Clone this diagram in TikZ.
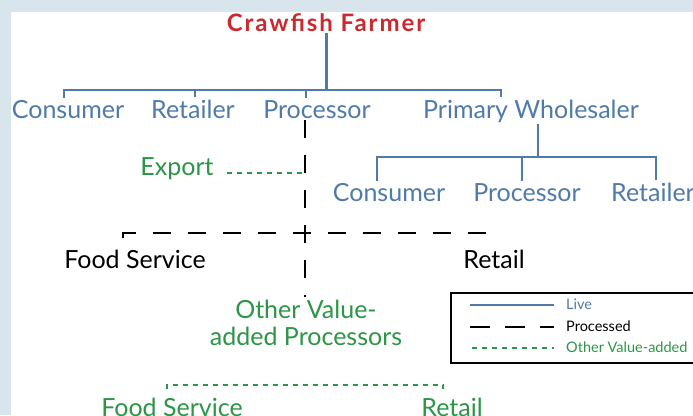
\documentclass[tikz,border=0pt]{standalone}
\usepackage{fontspec}
\setmainfont{Lato}
\usetikzlibrary{calc}

\definecolor{livec}{RGB}{80,122,170}
\definecolor{farmc}{RGB}{204,41,46}
\definecolor{addc}{RGB}{44,150,70}
\definecolor{backc}{RGB}{217,229,236}

\begin{document}
\begin{tikzpicture}[x=1pt,y=-1pt,
    lab/.style={inner sep=2pt, anchor=base, font=\fontsize{25}{27}\selectfont},
    leg/.style={inner sep=2pt, anchor=base west, font=\fontsize{14.5}{16}\selectfont},
    live/.style={livec, line width=2pt},
    processed/.style={black, line width=1.6pt, dash pattern=on 18pt off 17pt},
    valueadded/.style={addc, line width=1.6pt, dash pattern=on 5pt off 5pt}]

        % Page and the light frame round it
        \clip (0,0) rectangle (693,415);
        \fill[backc] (0,0) rectangle (693,415);
        \fill[white] (11,12) rectangle (693,415);

        % The farmer on top
        \node[lab, farmc, font=\fontsize{24}{26}\selectfont\bfseries\addfontfeatures{LetterSpace=8}] (farmer) at (326,31) {Crawfish Farmer};

        % First row of buyers
        \node[lab, livec] (c1) at (68,118) {Consumer};
        \node[lab, livec] (r1) at (193,118) {Retailer};
        \node[lab, livec] (p1) at (317,118) {Processor};
        \node[lab, livec] (w1) at (531,118) {Primary Wholesaler};

        % Live branches from the farmer
        \coordinate (bar1) at (326,90);
        \draw[livec, line width=3pt] (farmer.south) -- (bar1);
        \draw[live] ([xshift=-4pt]c1.north) -- ([xshift=-4pt]c1.north |- bar1)
            -- ([xshift=-30pt]w1.north |- bar1) -- ([xshift=-30pt]w1.north);
        \draw[live] ([xshift=2pt]r1.north) -- ([xshift=2pt]r1.north |- bar1);
        \draw[live] ([xshift=-11pt]p1.north) -- ([xshift=-11pt]p1.north |- bar1);

        % Second row under the wholesaler
        \node[lab, livec] (c2) at (389,201) {Consumer};
        \node[lab, livec] (p2) at (527,201) {Processor};
        \node[lab, livec] (r2) at (653,201) {Retailer};

        \coordinate (bar2) at (538,157);
        \draw[live] ([xshift=7pt]w1.south) -- (bar2);
        \draw[live] ([xshift=-12pt]c2.north) -- ([xshift=-12pt]c2.north |- bar2)
            -- ([xshift=3pt]r2.north |- bar2) -- ([xshift=3pt]r2.north);
        \draw[live] ([xshift=-5pt]p2.north) -- ([xshift=-5pt]p2.north |- bar2);

        % Processed line and export
        \node[lab, addc] (export) at (177,175) {Export};
        \node[lab, addc, align=center] (ovp) at (306,345) {Other Value-\\added Processors};
        \coordinate (exp) at (305,173);
        \draw[processed] ([xshift=-12pt]p1.south) -- ([xshift=-12pt]p1.south |- ovp.north);
        \draw[valueadded] ([xshift=11pt]export.east |- exp) -- (exp);

        % Food service and retail for processed product
        \node[lab] (fs) at (135,268) {Food Service};
        \node[lab] (rt) at (494,268) {Retail};
        \coordinate (bar3) at (305,233);
        \draw[processed] ([xshift=-12pt,yshift=9pt]fs.north) -- ([xshift=-12pt]fs.north |- bar3)
            -- ([xshift=-2pt]rt.north |- bar3) -- ([xshift=-2pt,yshift=8pt]rt.north);

        % Value-added outlets
        \node[lab, addc] (fs2) at (172,416) {Food Service};
        \node[lab, addc] (rt2) at (452,416) {Retail};
        \coordinate (bar4) at (306,385);
        \draw[valueadded] ([xshift=-5pt,yshift=6pt]fs2.north) -- ([xshift=-5pt]fs2.north |- bar4)
            -- ([xshift=-9pt]rt2.north |- bar4) -- ([xshift=-9pt,yshift=6pt]rt2.north);

        % Legend
        \draw[line width=1.2pt] (451,293) rectangle (710,363);
        \draw[live] (470,305) -- (554,305);
        \node[leg, livec] (lglive) at (564,309) {Live};
        \draw[black, line width=1.6pt, dash pattern=on 20pt off 15pt] (470,327) -- (554,327);
        \node[leg] (lgproc) at (564,331) {Processed};
        \draw[valueadded] (472,348) -- (554,348);
        \node[leg, addc] (lgadd) at (564,352) {Other Value-added};

    \end{tikzpicture}
\end{document}
